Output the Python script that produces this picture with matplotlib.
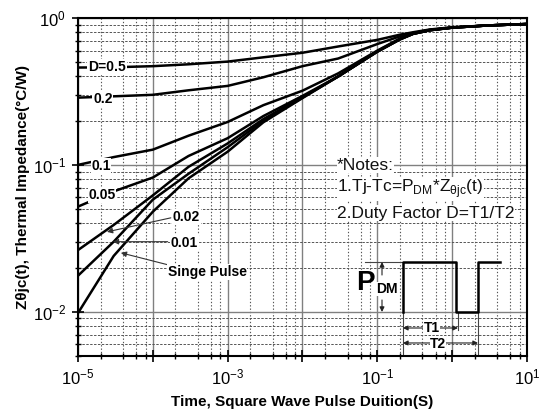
import numpy as np
import matplotlib
matplotlib.use('Agg')
import matplotlib.pyplot as plt
from matplotlib.ticker import LogLocator, FixedLocator, NullFormatter

plt.rcParams['font.family'] = ['Liberation Sans', 'DejaVu Sans']
plt.rcParams['mathtext.fontset'] = 'custom'
plt.rcParams['mathtext.rm'] = 'Liberation Sans'
plt.rcParams['mathtext.bf'] = 'Liberation Sans:bold'

# pulse width (s)
t = [1e-5, 3e-5, 1e-4, 3e-4, 1e-3, 3e-3, 1e-2, 3e-2, 1e-1, 2e-1, 3e-1, 5e-1, 1, 3, 10]

# thermal impedance per duty factor (C/W)
z_05 = [0.46, 0.462, 0.47, 0.484, 0.505, 0.54, 0.58, 0.64, 0.71, 0.77, 0.80, 0.835, 0.865, 0.89, 0.91]
z_02 = [0.287, 0.293, 0.30, 0.322, 0.345, 0.395, 0.47, 0.53, 0.665, 0.75, 0.79, 0.83, 0.86, 0.89, 0.91]
z_01 = [0.10, 0.113, 0.127, 0.158, 0.196, 0.255, 0.32, 0.42, 0.60, 0.725, 0.785, 0.83, 0.86, 0.89, 0.91]
z_005 = [0.052, 0.066, 0.082, 0.115, 0.152, 0.215, 0.295, 0.40, 0.595, 0.72, 0.78, 0.825, 0.86, 0.89, 0.91]
z_002 = [0.0263, 0.039, 0.062, 0.097, 0.14, 0.205, 0.29, 0.40, 0.59, 0.715, 0.78, 0.825, 0.86, 0.89, 0.91]
z_001 = [0.0176, 0.030, 0.058, 0.087, 0.132, 0.20, 0.287, 0.40, 0.59, 0.715, 0.78, 0.825, 0.86, 0.89, 0.91]
z_single = [0.0098, 0.024, 0.048, 0.081, 0.123, 0.195, 0.285, 0.40, 0.59, 0.715, 0.78, 0.825, 0.86, 0.89, 0.91]

x_ticks = [1e-5, 1e-4, 1e-3, 1e-2, 1e-1, 1, 10]
x_labels = [r'$\mathregular{10^{-5}}$', '', r'$\mathregular{10^{-3}}$', '',
            r'$\mathregular{10^{-1}}$', '', r'$\mathregular{10^{1}}$']
y_ticks = [1e-2, 1e-1, 1]
y_labels = [r'$\mathregular{10^{-2}}$', r'$\mathregular{10^{-1}}$', r'$\mathregular{10^{0}}$']

fig = plt.figure(figsize=(5.39, 4.15), dpi=100)
ax = fig.add_axes([0.1447, 0.1422, 0.8330, 0.8144])

for z in [z_05, z_02, z_01, z_005, z_002, z_001, z_single]:
    ax.plot(t, z, color='black', lw=1.8, solid_capstyle='butt', zorder=3)

ax.set_xscale('log')
ax.set_yscale('log')
ax.set_xlim(1e-5, 10)
ax.set_ylim(0.005, 1)

ax.xaxis.set_major_locator(FixedLocator(x_ticks))
ax.set_xticklabels(x_labels)
ax.yaxis.set_major_locator(FixedLocator(y_ticks))
ax.set_yticklabels(y_labels)
ax.xaxis.set_minor_locator(LogLocator(base=10, subs=[2, 4, 6, 8], numticks=20))
ax.yaxis.set_minor_locator(LogLocator(base=10, subs=np.arange(2, 10), numticks=20))
ax.xaxis.set_minor_formatter(NullFormatter())
ax.yaxis.set_minor_formatter(NullFormatter())

ax.tick_params(which='major', direction='inout', length=9, width=1.2, labelsize=12, pad=4)
ax.tick_params(which='minor', direction='inout', length=5, width=1)

ax.grid(True, which='major', color='#808080', lw=1.0, ls='-', zorder=1)
ax.xaxis.grid(True, which='minor', color='#555555', lw=0.8, ls=(0, (1.2, 1.8)), zorder=1)
ax.yaxis.grid(True, which='minor', color='#555555', lw=0.7, ls=(0, (2.5, 1.5)), zorder=1)
ax.set_axisbelow(True)
for s in ax.spines.values():
    s.set_linewidth(1.5)

ax.set_xlabel('Time, Square Wave Pulse Duition(S)', fontsize=11, fontweight='bold', labelpad=5)
ax.set_ylabel('Zθjc(t), Thermal Impedance(°C/W)', fontsize=11, fontweight='bold', labelpad=2)

# duty-factor labels sitting on the curves
lab = dict(fontsize=10, fontweight='bold', ha='center', va='center', zorder=4,
           bbox=dict(facecolor='white', edgecolor='none', pad=0.5))
ax.text(2.44e-5, 0.464, 'D=0.5', **lab)
ax.text(2.15e-5, 0.281, '0.2', **lab)
ax.text(2.03e-5, 0.0985, '0.1', **lab)
ax.text(2.09e-5, 0.0625, '0.05', **lab)

arr = dict(arrowstyle='-|>', color='#333333', lw=0.8, mutation_scale=8, shrinkA=0, shrinkB=0)
txt = dict(fontsize=10, fontweight='bold', ha='left', va='center', zorder=4,
           bbox=dict(facecolor='white', edgecolor='none', pad=0.5))
ax.annotate('', xy=(2.44e-5, 0.035), xytext=(1.74e-4, 0.0436), arrowprops=arr)
ax.text(1.85e-4, 0.0443, '0.02', **txt)
ax.annotate('', xy=(2.93e-5, 0.030), xytext=(1.58e-4, 0.030), arrowprops=arr)
ax.text(1.74e-4, 0.0295, '0.01', **txt)
ax.annotate('', xy=(3.74e-5, 0.0252), xytext=(1.58e-4, 0.0209), arrowprops=arr)
ax.text(1.58e-4, 0.0187, 'Singe Pulse', **txt)

# notes
note = dict(fontsize=12.5, ha='left', va='center', color='#111111', transform=ax.transAxes, zorder=4,
            bbox=dict(facecolor='white', edgecolor='none', pad=0.2))
ax.text(0.577, 0.565, '*Notes:', **note)
ax.text(0.577, 0.494, r'1.Tj-Tc=P$_{\mathregular{DM}}$*Z$_{\mathregular{θjc}}$(t)', **note)
ax.text(0.577, 0.423, '2.Duty Factor D=T1/T2', **note)

# pulse waveform sketch
tr = ax.transAxes
ax.plot([0.7238, 0.7238, 0.8419, 0.8419, 0.8909, 0.8909, 0.9399],
        [0.1302, 0.2781, 0.2781, 0.1302, 0.1302, 0.2781, 0.2781],
        color='black', lw=1.8, transform=tr, zorder=4)
ax.plot([0.6392, 0.7238], [0.2781, 0.2781], color='#444444', lw=0.8, transform=tr)
ax.plot([0.7238, 0.7238], [0.1302, 0.0], color='#444444', lw=0.8, transform=tr)
ax.plot([0.8463, 0.8463], [0.127, 0.077], color='#444444', lw=0.8, transform=tr)
ax.plot([0.8909, 0.8909], [0.1302, 0.0], color='#444444', lw=0.8, transform=tr)

small = dict(arrowstyle='-|>', color='#222222', lw=0.8, mutation_scale=7, shrinkA=0, shrinkB=0)
ax.annotate('', xy=(0.6771, 0.2781), xytext=(0.6771, 0.2396), xycoords=tr, textcoords=tr, arrowprops=small)
ax.annotate('', xy=(0.6771, 0.1302), xytext=(0.6771, 0.1657), xycoords=tr, textcoords=tr, arrowprops=small)
ax.text(0.6392, 0.216, 'P', fontsize=20, fontweight='bold', ha='center', va='center', transform=tr)
ax.text(0.6882, 0.198, 'DM', fontsize=10, fontweight='bold', ha='center', va='center', transform=tr,
        bbox=dict(facecolor='white', edgecolor='none', pad=0.3))

both = dict(arrowstyle='<|-|>', color='#222222', lw=0.8, mutation_scale=7, shrinkA=0, shrinkB=0)
ax.annotate('', xy=(0.7238, 0.0828), xytext=(0.8463, 0.0828), xycoords=tr, textcoords=tr, arrowprops=both)
ax.annotate('', xy=(0.7238, 0.0385), xytext=(0.8909, 0.0385), xycoords=tr, textcoords=tr, arrowprops=both)
tt = dict(fontsize=10, fontweight='bold', ha='center', va='center', transform=tr, zorder=5,
          bbox=dict(facecolor='white', edgecolor='none', pad=0.3))
ax.text(0.7873, 0.0828, 'T1', **tt)
ax.text(0.8018, 0.036, 'T2', **tt)

fig.savefig('out.png', dpi=100)
